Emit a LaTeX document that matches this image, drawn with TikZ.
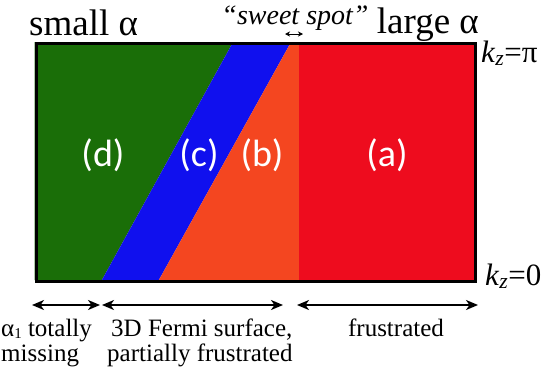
\documentclass[tikz,border=0pt]{standalone}
\usepackage{fontspec}
\setmainfont{Liberation Serif}
\newfontfamily\labfont{Carlito}
\usetikzlibrary{arrows.meta}
\definecolor{cgreen}{RGB}{26,110,8}
\definecolor{cblue}{RGB}{16,16,238}
\definecolor{corange}{RGB}{244,70,32}
\definecolor{cred}{RGB}{238,12,30}
\tikzset{
  reglabel/.style={text=white,font=\labfont\fontsize{38}{40}\selectfont,inner sep=0pt},
  head/.style={font=\fontsize{37}{39}\selectfont,inner sep=0pt},
  kz/.style={font=\fontsize{31}{33}\selectfont,inner sep=0pt,anchor=base west},
  bottomtxt/.style={font=\fontsize{25}{27}\selectfont,inner sep=0pt,anchor=base west},
  span/.style={line width=1.8pt,{Stealth[length=12pt,width=10pt,inset=3.5pt]}-{Stealth[length=12pt,width=10pt,inset=3.5pt]}},
  spotarrow/.style={line width=0.9pt,{Stealth[length=5pt,width=5pt,inset=1.5pt]}-{Stealth[length=5pt,width=5pt,inset=1.5pt]}}
}
\begin{document}
\begin{tikzpicture}[x=1pt,y=-1pt]
\useasboundingbox (0,0) rectangle (545,370);
% regions
\fill[cgreen] (34.5,42) -- (233.1,42) -- (101.9,280) -- (34.5,280) -- cycle;
\fill[cblue] (233.1,42) -- (291.1,42) -- (158.9,280) -- (101.9,280) -- cycle;
\fill[corange] (291.1,42) -- (299,42) -- (299,280) -- (158.9,280) -- cycle;
\fill[cred] (299,42) rectangle (473.5,280);
\node[draw=black,line width=3pt,minimum width=439pt,minimum height=238pt,inner sep=0pt,anchor=north west] (box) at (34.5,42) {};
% labels
\node[reglabel] (d) at (103,155) {(d)};
\node[reglabel] (c) at (199,155) {(c)};
\node[reglabel] (b) at (262,155) {(b)};
\node[reglabel] (a) at (387,155) {(a)};
% headings
\node[head,anchor=base west] (small) at (29,35) {small α};
\node[head,anchor=base east] (large) at (479,33) {large α};
\node[font=\itshape\fontsize{28}{30}\selectfont,inner sep=0pt,anchor=base] (sweet) at (295,24) {“sweet spot”};
\coordinate (s1) at (285,34);
\coordinate (s2) at (303,34);
\draw[spotarrow] (s1) -- (s2);
\node[kz] (kpi) at (481,62) {\textit{k}\textsubscript{\textit{z}}=π};
\node[kz] (k0) at (485,285) {\textit{k}\textsubscript{\textit{z}}=0};
% spans
\coordinate (a1) at (32,305);
\coordinate (a2) at (100,305);
\coordinate (b1) at (102,305);
\coordinate (b2) at (283,305);
\coordinate (c1) at (297,305);
\coordinate (c2) at (478,305);
\draw[span] (a1) -- (a2);
\draw[span] (b1) -- (b2);
\draw[span] (c1) -- (c2);
% bottom texts
\node[bottomtxt,text depth=0pt] (t1) at (1,336) {α\raisebox{-2.5pt}{\fontsize{15}{15}\selectfont 1} totally};
\node[bottomtxt] (t2) at (1,361) {missing};
\node[bottomtxt] (t3) at (111,336) {3D Fermi surface,};
\node[bottomtxt] (t4) at (107,361) {partially frustrated};
\node[bottomtxt,anchor=base] (t5) at (396,336) {frustrated};
\end{tikzpicture}
\end{document}
